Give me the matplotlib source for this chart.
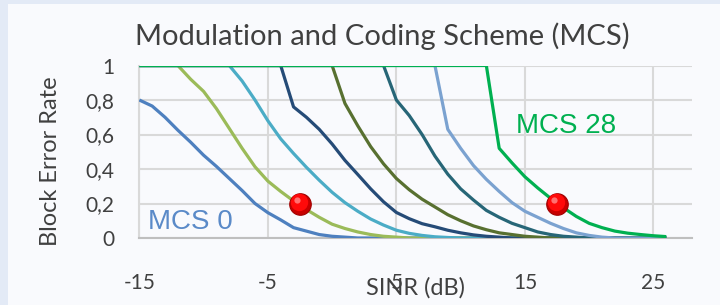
import matplotlib
matplotlib.use("Agg")
import matplotlib.pyplot as plt
from matplotlib.patches import Rectangle
import matplotlib.transforms as mtransforms

plt.rcParams["axes.unicode_minus"] = False

# ---------------- data ----------------
sinr = [-15, -14, -13, -12, -11, -10, -9, -8, -7, -6, -5, -4, -3, -2, -1, 0, 1, 2, 3, 4, 5,
        6, 7, 8, 9, 10, 11, 12, 13, 14, 15, 16, 17, 18, 19, 20, 21, 22, 23, 24, 25, 26]

bler_mcs0 = [0.80, 0.765, 0.70, 0.625, 0.555, 0.48, 0.415, 0.345, 0.275, 0.20, 0.147, 0.105,
             0.06, 0.04, 0.02, 0.01, 0.005, 0, 0, 0, 0, 0, 0, 0, 0, 0, 0, 0, 0, 0, 0, 0, 0,
             0, 0, 0, 0, 0, 0, 0, 0, 0]
bler_s2 = [1, 1, 1, 1, 0.92, 0.85, 0.75, 0.635, 0.52, 0.413, 0.33, 0.27, 0.215, 0.165, 0.12,
           0.08, 0.055, 0.035, 0.02, 0.01, 0.005, 0, 0, 0, 0, 0, 0, 0, 0, 0, 0, 0, 0, 0, 0, 0,
           0, 0, 0, 0, 0, 0]
bler_s3 = [1, 1, 1, 1, 1, 1, 1, 1, 0.91, 0.80, 0.68, 0.575, 0.49, 0.41, 0.335, 0.265, 0.205,
           0.155, 0.11, 0.075, 0.045, 0.027, 0.015, 0.007, 0.003, 0, 0, 0, 0, 0, 0, 0, 0, 0,
           0, 0, 0, 0, 0, 0, 0, 0]
bler_s4 = [1, 1, 1, 1, 1, 1, 1, 1, 1, 1, 1, 1, 0.76, 0.70, 0.63, 0.545, 0.45, 0.368, 0.285,
           0.21, 0.148, 0.112, 0.083, 0.065, 0.045, 0.03, 0.018, 0.01, 0.005, 0, 0, 0, 0, 0,
           0, 0, 0, 0, 0, 0, 0, 0]
bler_s5 = [1, 1, 1, 1, 1, 1, 1, 1, 1, 1, 1, 1, 1, 1, 1, 1, 0.78, 0.65, 0.53, 0.43, 0.345,
           0.28, 0.225, 0.18, 0.135, 0.10, 0.07, 0.048, 0.03, 0.02, 0.01, 0.005, 0, 0, 0, 0,
           0, 0, 0, 0, 0, 0]
bler_s6 = [1, 1, 1, 1, 1, 1, 1, 1, 1, 1, 1, 1, 1, 1, 1, 1, 1, 1, 1, 1, 0.80, 0.71, 0.60,
           0.475, 0.37, 0.285, 0.22, 0.16, 0.12, 0.085, 0.06, 0.035, 0.02, 0.01, 0.005, 0, 0,
           0, 0, 0, 0, 0]
bler_s7 = [1, 1, 1, 1, 1, 1, 1, 1, 1, 1, 1, 1, 1, 1, 1, 1, 1, 1, 1, 1, 1, 1, 1, 1, 0.63,
           0.52, 0.42, 0.34, 0.27, 0.205, 0.155, 0.12, 0.085, 0.055, 0.03, 0.015, 0.005, 0,
           0, 0, 0, 0]
bler_mcs28 = [1, 1, 1, 1, 1, 1, 1, 1, 1, 1, 1, 1, 1, 1, 1, 1, 1, 1, 1, 1, 1, 1, 1, 1, 1, 1,
              1, 1, 0.52, 0.435, 0.355, 0.29, 0.23, 0.175, 0.125, 0.085, 0.06, 0.04, 0.028,
              0.02, 0.013, 0.008]

series = [bler_mcs0, bler_s2, bler_s3, bler_s4, bler_s5, bler_s6, bler_s7, bler_mcs28]
colors = ["#4E80BF", "#9BBB59", "#4BACC6", "#254B77", "#587030", "#276677", "#7BA2D0", "#00B050"]

marker_x = [-2.5, 17.5]
marker_y = [0.2, 0.2]

x_ticks = [-15, -5, 5, 15, 25]
y_ticks = [0, 0.2, 0.4, 0.6, 0.8, 1.0]
y_tick_labels = ["0", "0,2", "0,4", "0,6", "0,8", "1"]

title = "Modulation and Coding Scheme (MCS)"
xlabel = "SINR (dB)"
ylabel = "Block Error Rate"

# ---------------- figure ----------------
W, H = 720, 305
fig = plt.figure(figsize=(7.2, 3.05), dpi=100, facecolor="#E3EAF6")
fig.patches.append(Rectangle((8 / W, 0), 1, 1 - 4 / H, transform=fig.transFigure,
                             facecolor="#F9FAFD", edgecolor="none", zorder=-5))

ax = fig.add_axes([139.3 / W, 67 / H, (692 - 139.3) / W, (238 - 65.5) / H])
ax.set_zorder(2)
ax.set_facecolor("#F9FAFD")
ax.set_xlim(-15, 28)
ax.set_ylim(0, 1)

for s in ["top", "right"]:
    ax.spines[s].set_visible(False)
ax.spines["left"].set_color("#D9D9D9")
ax.spines["left"].set_linewidth(1.5)
ax.spines["bottom"].set_color("#BFBFBF")
ax.spines["bottom"].set_linewidth(1.5)

ax.set_xticks(x_ticks)
ax.set_yticks(y_ticks)
ax.set_yticklabels(y_tick_labels)
ax.grid(True, color="#D9D9D9", linewidth=1.5)
ax.set_axisbelow(True)

tick_font = "Lato"
ax.tick_params(axis="x", length=0, pad=25, labelsize=15, labelcolor="#404040")
ax.tick_params(axis="y", length=0, pad=18, labelsize=15, labelcolor="#404040")
for lab in ax.get_xticklabels() + ax.get_yticklabels():
    lab.set_fontfamily(tick_font)

for ys, c in zip(series, colors):
    ax.plot(sinr, ys, color=c, linewidth=2.3, solid_joinstyle="round",
            solid_capstyle="butt", zorder=3)

# red 3D-looking dots
ax.plot(marker_x, marker_y, linestyle="none", marker="o", markersize=15.5,
        markerfacecolor="#C80000", markeredgecolor="#A00000", markeredgewidth=0.8, zorder=5)
off1 = mtransforms.offset_copy(ax.transData, fig=fig, x=-0.8, y=0.8, units="points")
ax.plot(marker_x, marker_y, linestyle="none", marker="o", markersize=12.5,
        markerfacecolor="#FF0A0A", markeredgecolor="none", transform=off1, zorder=6)
off2 = mtransforms.offset_copy(ax.transData, fig=fig, x=-2.0, y=2.8, units="points")
ax.plot(marker_x, marker_y, linestyle="none", marker="o", markersize=4.5,
        markerfacecolor="#FF7070", markeredgecolor="none", transform=off2, zorder=7)

ax.text(-14.32, 0.093, "MCS 0", fontsize=20, color="#5A8AC8", family="Liberation Sans",
        ha="left", va="center", zorder=4)
ax.text(14.34, 0.649, "MCS 28", fontsize=20, color="#00B050", family="Liberation Sans",
        ha="left", va="center", zorder=4)

fig.text(382 / W, 1 - 45 / H, title, fontsize=21, color="#404040", family="Lato",
         ha="center", va="baseline")
fig.text(415.5 / W, 1 - 288 / H, xlabel, fontsize=17, color="#404040", family="Lato",
         ha="center", va="center")
fig.text(50.5 / W, 1 - 161 / H, ylabel, fontsize=17, color="#404040", family="Lato",
         ha="center", va="center", rotation=90)

fig.savefig("out.png", dpi=100, facecolor=fig.get_facecolor())
